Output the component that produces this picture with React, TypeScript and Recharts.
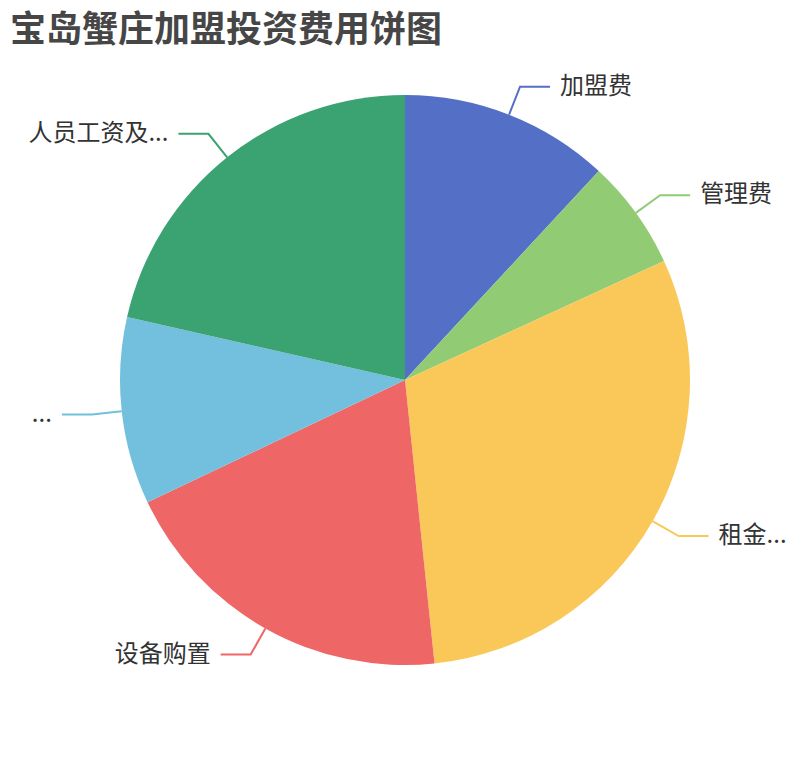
import React from 'react';
import { PieChart, Pie, Cell } from 'recharts';

const title = '宝岛蟹庄加盟投资费用饼图';
const categories = ['加盟费', '管理费', '租金...', '设备购置', '...', '人员工资及...'];
const values = [11.9, 6.25, 30.2, 19.6, 10.6, 21.45];
const colors = ['#5470c6', '#91cc75', '#fac858', '#ee6666', '#73c0de', '#3ba272'];

const data = categories.map((name, i) => ({ name, value: values[i] }));

const RADIAN = Math.PI / 180;
const LEN1 = 30;
const LEN2 = 30;
const GAP = 10;

const renderLabel = (props: any) => {
  const { cx, cy, midAngle, outerRadius, index, name } = props;
  const cos = Math.cos(-midAngle * RADIAN);
  const sin = Math.sin(-midAngle * RADIAN);
  const sx = cx + outerRadius * cos;
  const sy = cy + outerRadius * sin;
  const mx = cx + (outerRadius + LEN1) * cos;
  const my = cy + (outerRadius + LEN1) * sin;
  const right = cos >= 0;
  const ex = mx + (right ? LEN2 : -LEN2);
  const tx = ex + (right ? GAP : -GAP);
  const color = colors[index % colors.length];
  return (
    <g key={`lbl-${index}`}>
      <polyline
        points={`${sx},${sy} ${mx},${my} ${ex},${my}`}
        fill="none"
        stroke={color}
        strokeWidth={2}
      />
      <text
        x={tx}
        y={my + 7}
        textAnchor={right ? 'start' : 'end'}
        fill="#333"
        fontSize={24}
        fontFamily='"Noto Sans CJK SC", "Noto Sans", sans-serif'
      >
        {name}
      </text>
    </g>
  );
};

export default function App() {
  return (
    <div style={{ position: 'absolute', left: 0, top: 0, width: 810, height: 760, background: '#fff' }}>
      <PieChart
        width={810}
        height={760}
        margin={{ top: 0, right: 0, bottom: 0, left: 0 }}
        style={{ position: 'absolute', left: 0, top: 0 }}
      >
        <Pie
          data={data}
          dataKey="value"
          nameKey="name"
          cx={405}
          cy={380}
          innerRadius={0}
          outerRadius={285}
          startAngle={90}
          endAngle={-270}
          stroke="none"
          label={renderLabel}
          labelLine={false}
          isAnimationActive={false}
        >
          {data.map((d, i) => (
            <Cell key={d.name + i} fill={colors[i % colors.length]} />
          ))}
        </Pie>
      </PieChart>
      <div
        style={{
          position: 'absolute',
          left: 10,
          top: 6,
          fontSize: 36,
          lineHeight: '40px',
          fontWeight: 700,
          color: '#464646',
          fontFamily: '"Noto Sans CJK SC", "Noto Sans", sans-serif',
          whiteSpace: 'nowrap',
        }}
      >
        {title}
      </div>
    </div>
  );
}
